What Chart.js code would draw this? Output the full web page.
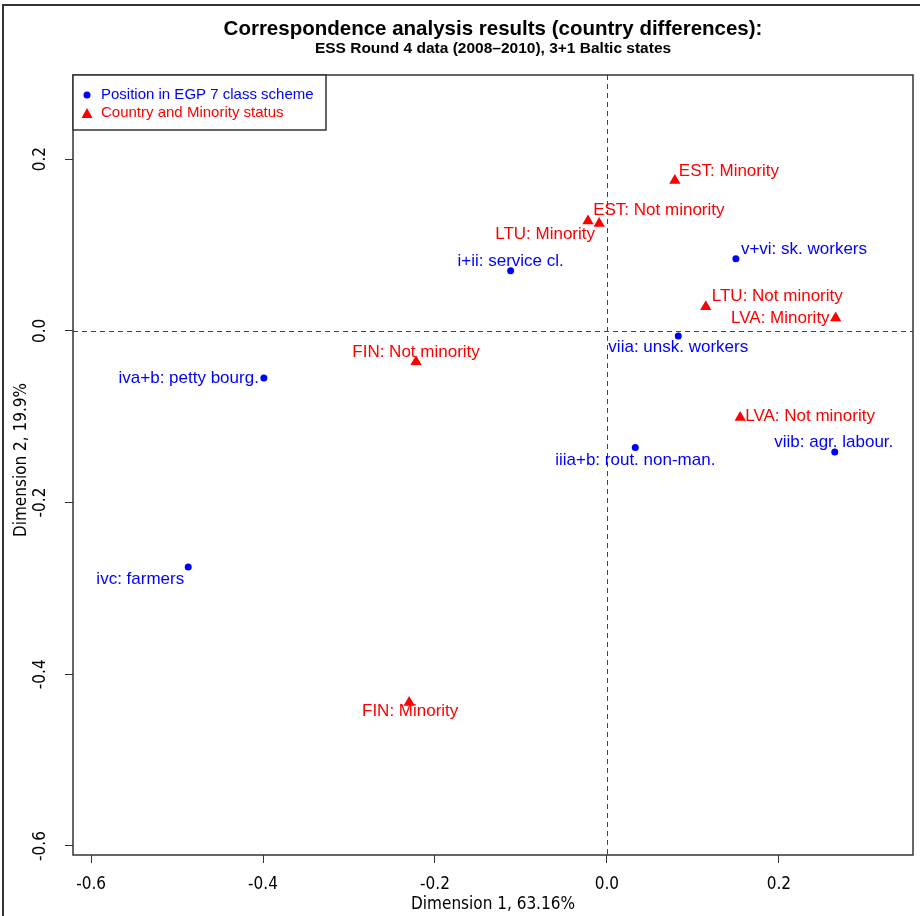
<!DOCTYPE html>
<html>
<head>
<meta charset="utf-8">
<script src="https://cdn.jsdelivr.net/npm/chart.js@4/dist/chart.umd.min.js"></script>
<style>
  html, body { margin: 0; padding: 0; background: #fff; }
  canvas { display: block; }
</style>
</head>
<body>
<canvas id="caChart" width="920" height="916"></canvas>
<script>
// EGP class positions (blue dots)
const classLabels = ['i+ii: service cl.', 'iiia+b: rout. non-man.', 'iva+b: petty bourg.', 'ivc: farmers',
                     'v+vi: sk. workers', 'viia: unsk. workers', 'viib: agr. labour.'];
const classDim1 = [-0.112, 0.033, -0.399, -0.487, 0.150, 0.083, 0.265];
const classDim2 = [0.070, -0.136, -0.055, -0.275, 0.084, -0.006, -0.141];

// Country and minority status (red triangles)
const groupLabels = ['EST: Minority', 'EST: Not minority', 'FIN: Minority', 'FIN: Not minority',
                     'LTU: Minority', 'LTU: Not minority', 'LVA: Minority', 'LVA: Not minority'];
const groupDim1 = [0.079, -0.009, -0.230, -0.222, -0.022, 0.115, 0.266, 0.155];
const groupDim2 = [0.175, 0.125, -0.433, -0.036, 0.128, 0.028, 0.015, -0.101];

const axisTicks = [-0.6, -0.4, -0.2, 0.0, 0.2];

// label placement next to each mark: [align, dx, dy] in pixels
const classLabelPos = [['center', 0, -9], ['center', 0, 13], ['right', -5, 0], ['right', -4, 12],
                       ['left', 5, -9], ['center', 0, 11], ['center', -1, -10]];
const groupLabelPos = [['left', 4, -9], ['left', -6, -13], ['center', 1, 9], ['center', 0, -9],
                       ['right', 7, 13], ['left', 6, -10], ['right', -6, 0], ['left', 5, -1]];

const BLUE = '#0000ff';
const RED = '#ff0000';
const FRAME = '#333333';
const SANS = '"Liberation Sans", Arial, sans-serif';
const NARROW = '"Liberation Sans Narrow", "DejaVu Sans Condensed", sans-serif';

const toPoints = (xs, ys) => xs.map((x, i) => ({ x: x, y: ys[i] }));

const pointLabels = {
    id: 'pointLabels',
    afterDatasetsDraw(chart) {
        const ctx = chart.ctx;
        const sets = [[classLabels, classLabelPos, BLUE], [groupLabels, groupLabelPos, RED]];
        ctx.save();
        ctx.font = '17px ' + SANS;
        ctx.textBaseline = 'middle';
        sets.forEach(([labels, pos, color], di) => {
            const meta = chart.getDatasetMeta(di);
            ctx.fillStyle = color;
            meta.data.forEach((el, i) => {
                const [align, dx, dy] = pos[i];
                ctx.textAlign = align;
                ctx.fillText(labels[i], el.x + dx, el.y + dy);
            });
        });
        ctx.restore();
    }
};

const decorations = {
    id: 'decorations',
    beforeDatasetsDraw(chart) {
        const { ctx, chartArea: a, scales } = chart;
        const x0 = Math.round(scales.x.getPixelForValue(0)) + 0.5;
        const y0 = Math.round(scales.y.getPixelForValue(0)) + 0.5;
        ctx.save();
        ctx.strokeStyle = '#444';
        ctx.lineWidth = 1;
        ctx.setLineDash([5, 4]);
        ctx.beginPath();
        ctx.moveTo(x0, a.top); ctx.lineTo(x0, a.bottom);
        ctx.moveTo(a.left, y0); ctx.lineTo(a.right, y0);
        ctx.stroke();
        ctx.restore();
    },
    afterDraw(chart) {
        const { ctx, chartArea: a } = chart;
        const cx = (a.left + a.right) / 2;
        ctx.save();
        // outer frame (top and left only visible)
        ctx.strokeStyle = FRAME;
        ctx.lineWidth = 2;
        ctx.beginPath();
        ctx.moveTo(3, 916); ctx.lineTo(3, 5); ctx.lineTo(920, 5);
        ctx.stroke();
        // plot box
        ctx.lineWidth = 1.5;
        ctx.strokeRect(a.left, a.top, a.right - a.left, a.bottom - a.top);

        // titles
        ctx.fillStyle = '#000';
        ctx.textAlign = 'center';
        ctx.textBaseline = 'middle';
        ctx.font = 'bold 20.5px ' + SANS;
        ctx.fillText('Correspondence analysis results (country differences):', cx, 29);
        ctx.font = 'bold 15.5px ' + SANS;
        ctx.fillText('ESS Round 4 data (2008\u20132010), 3+1 Baltic states', cx, 49);

        // axis titles
        ctx.font = '17px ' + NARROW;
        ctx.fillText('Dimension 1, 63.16%', cx, 905);
        ctx.translate(22, (a.top + a.bottom) / 2 - 5);
        ctx.rotate(-Math.PI / 2);
        ctx.fillText('Dimension 2, 19.9%', 0, 0);
        ctx.restore();

        // legend box
        ctx.save();
        ctx.strokeStyle = FRAME;
        ctx.lineWidth = 1.5;
        ctx.fillStyle = '#fff';
        ctx.fillRect(a.left, a.top, 253, 55);
        ctx.strokeRect(a.left, a.top, 253, 55);
        ctx.fillStyle = BLUE;
        ctx.beginPath();
        ctx.arc(a.left + 14, a.top + 20, 3.5, 0, Math.PI * 2);
        ctx.fill();
        ctx.fillStyle = RED;
        ctx.beginPath();
        const tx = a.left + 14, ty = a.top + 39;
        ctx.moveTo(tx, ty - 6); ctx.lineTo(tx + 5.5, ty + 4); ctx.lineTo(tx - 5.5, ty + 4);
        ctx.closePath();
        ctx.fill();
        ctx.font = '15px ' + SANS;
        ctx.textAlign = 'left';
        ctx.textBaseline = 'middle';
        ctx.fillStyle = BLUE;
        ctx.fillText('Position in EGP 7 class scheme', a.left + 28, a.top + 20);
        ctx.fillStyle = RED;
        ctx.fillText('Country and Minority status', a.left + 28, a.top + 38);
        ctx.restore();
    }
};

function fixedTicks(scale) {
    scale.ticks = axisTicks.map(v => ({ value: v }));
}

new Chart(document.getElementById('caChart'), {
    type: 'scatter',
    data: {
        datasets: [
            {
                label: 'Position in EGP 7 class scheme',
                data: toPoints(classDim1, classDim2),
                pointStyle: 'circle',
                pointRadius: 3.5,
                pointHoverRadius: 3.5,
                backgroundColor: BLUE,
                borderColor: BLUE,
                borderWidth: 0
            },
            {
                label: 'Country and Minority status',
                data: toPoints(groupDim1, groupDim2),
                pointStyle: 'triangle',
                pointRadius: 6.5,
                pointHoverRadius: 6.5,
                backgroundColor: RED,
                borderColor: RED,
                borderWidth: 0
            }
        ]
    },
    options: {
        responsive: false,
        animation: false,
        devicePixelRatio: 1,
        layout: { padding: { top: 75, right: 7, left: 0, bottom: 0 } },
        plugins: {
            legend: { display: false },
            tooltip: { enabled: false }
        },
        scales: {
            x: {
                type: 'linear',
                min: -0.621,
                max: 0.356,
                afterBuildTicks: fixedTicks,
                afterFit: s => { s.height = 61; },
                border: { display: false },
                grid: { drawOnChartArea: false, drawTicks: true, tickLength: 8, color: FRAME, lineWidth: 1 },
                ticks: {
                    color: '#000',
                    padding: 11,
                    maxRotation: 0,
                    font: { family: NARROW, size: 17 },
                    callback: v => v.toFixed(1)
                }
            },
            y: {
                type: 'linear',
                min: -0.6105,
                max: 0.298,
                afterBuildTicks: fixedTicks,
                afterFit: s => { s.width = 73; },
                border: { display: false },
                grid: { drawOnChartArea: false, drawTicks: true, tickLength: 8, color: FRAME, lineWidth: 1 },
                ticks: {
                    color: '#000',
                    padding: 10,
                    minRotation: 90,
                    maxRotation: 90,
                    crossAlign: 'center',
                    font: { family: NARROW, size: 17 },
                    callback: v => v.toFixed(1)
                }
            }
        }
    },
    plugins: [decorations, pointLabels]
});
</script>
</body>
</html>
